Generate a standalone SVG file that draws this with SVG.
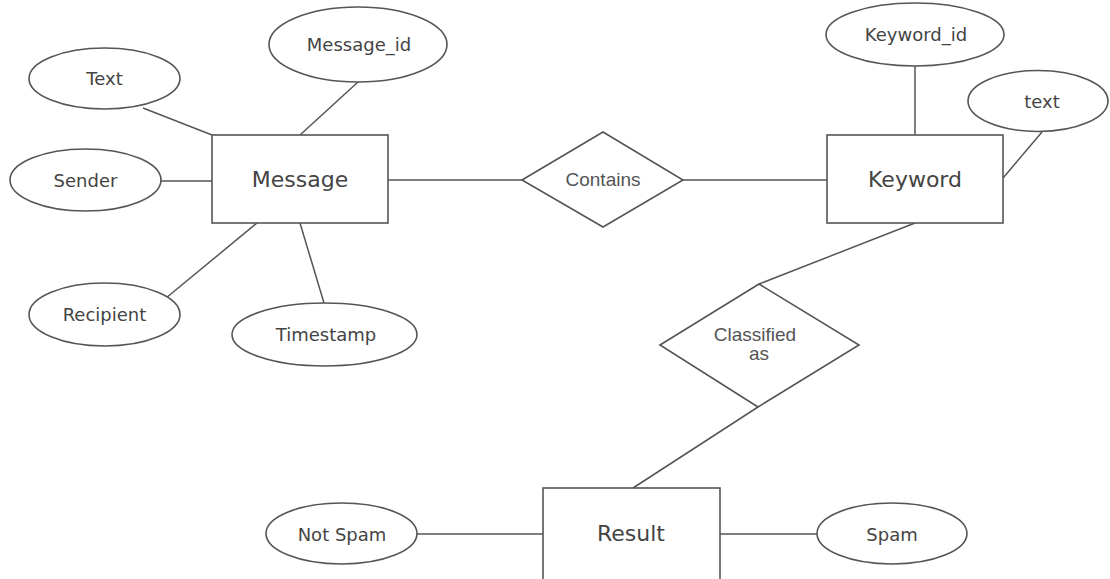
<svg xmlns="http://www.w3.org/2000/svg" width="1110" height="579" viewBox="0 0 1110 579">
<style>
.shape{fill:#fff;stroke:#555;stroke-width:1.6}
.conn line{stroke:#555;stroke-width:1.5}
.ent{font-family:"DejaVu Sans",Verdana,sans-serif;font-size:22px;fill:#444;text-anchor:middle}
.att{font-family:"DejaVu Sans",Verdana,sans-serif;font-size:18px;fill:#444;text-anchor:middle}
.rel{font-family:"Liberation Sans",Arial,sans-serif;font-size:19px;fill:#555;text-anchor:middle}
</style>
<rect width="1110" height="579" fill="#fff"/>
<g class="conn" id="connectors">
<line x1="143" y1="108" x2="212" y2="135"/>
<line x1="358" y1="82" x2="300" y2="135"/>
<line x1="161" y1="181" x2="212" y2="181"/>
<line x1="166" y1="298" x2="257" y2="223"/>
<line x1="324" y1="303" x2="300" y2="223"/>
<line x1="388" y1="180" x2="522" y2="180"/>
<line x1="683" y1="180" x2="827" y2="180"/>
<line x1="915" y1="66" x2="915" y2="135"/>
<line x1="1042" y1="132" x2="1003" y2="178"/>
<line x1="915" y1="223" x2="759" y2="284"/>
<line x1="758" y1="407" x2="633" y2="488"/>
<line x1="417" y1="534" x2="543" y2="534"/>
<line x1="720" y1="534" x2="817" y2="534"/>
</g>
<g id="message"><rect class="shape" x="212" y="135" width="176" height="88"/><text class="ent" x="300" y="187">Message</text></g>
<g id="text_attr"><ellipse class="shape" cx="104.5" cy="78.5" rx="75.5" ry="30.5"/><text class="att" x="104.5" y="85">Text</text></g>
<g id="message_id"><ellipse class="shape" cx="358" cy="44.5" rx="89" ry="37.5"/><text class="att" x="359" y="51">Message_id</text></g>
<g id="sender"><ellipse class="shape" cx="85.5" cy="180" rx="75.5" ry="31"/><text class="att" x="85.5" y="187">Sender</text></g>
<g id="recipient"><ellipse class="shape" cx="104.5" cy="314.5" rx="75.5" ry="31.5"/><text class="att" x="104.5" y="321">Recipient</text></g>
<g id="timestamp"><ellipse class="shape" cx="324.5" cy="334.5" rx="92.5" ry="31.5"/><text class="att" x="326" y="341">Timestamp</text></g>
<g id="contains"><polygon class="shape" points="522,180 603,132 683,180 603,227"/><text class="rel" x="603" y="186">Contains</text></g>
<g id="keyword"><rect class="shape" x="827" y="135" width="176" height="88"/><text class="ent" x="915" y="187">Keyword</text></g>
<g id="keyword_id"><ellipse class="shape" cx="915" cy="34.5" rx="89" ry="31.5"/><text class="att" x="916" y="41">Keyword_id</text></g>
<g id="keyword_text"><ellipse class="shape" cx="1038" cy="101" rx="70" ry="30.5"/><text class="att" x="1042" y="108">text</text></g>
<g id="classified"><polygon class="shape" points="660,345 759,284 859,345 758,407"/><text class="rel" x="755" y="341">Classified</text><text class="rel" x="759" y="360">as</text></g>
<g id="result"><rect class="shape" x="543" y="488" width="177" height="100"/><text class="ent" x="631" y="541">Result</text></g>
<g id="not_spam"><ellipse class="shape" cx="341.5" cy="533.5" rx="75.5" ry="30.5"/><text class="att" x="342" y="541">Not Spam</text></g>
<g id="spam"><ellipse class="shape" cx="892" cy="533.5" rx="75" ry="30.5"/><text class="att" x="892" y="541">Spam</text></g>
</svg>
